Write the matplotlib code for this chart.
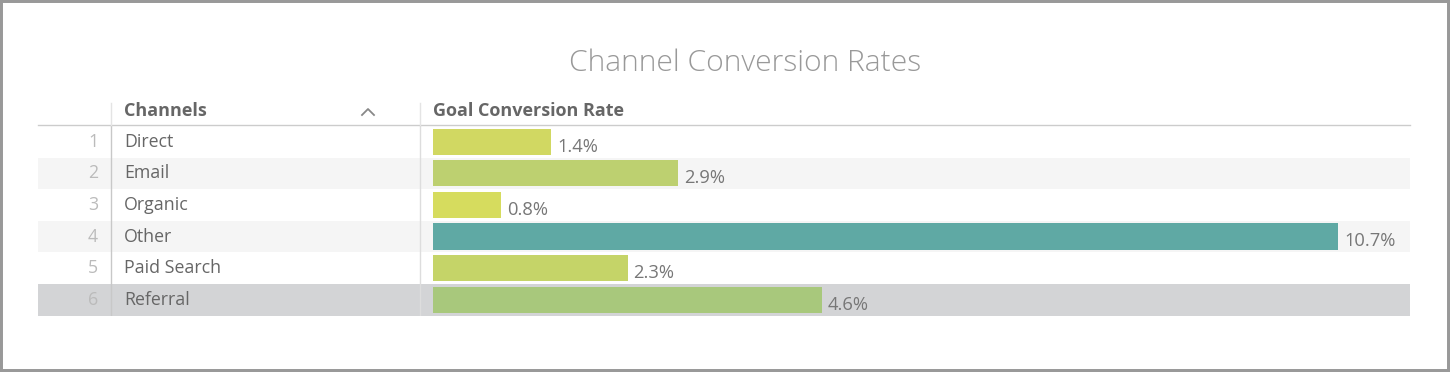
import matplotlib.pyplot as plt
from matplotlib.lines import Line2D
from matplotlib.patches import Rectangle

plt.rcParams['font.family'] = ['Open Sans', 'DejaVu Sans']

W, H = 1450, 372

title = "Channel Conversion Rates"
channels = ["Direct", "Email", "Organic", "Other", "Paid Search", "Referral"]
rates = [1.4, 2.9, 0.8, 10.7, 2.3, 4.6]
bar_colors = ["#d1d862", "#bdd070", "#d6dc5e", "#5fa9a4", "#c5d468", "#a8c87c"]
row_bg = ["#ffffff", "#f5f5f5", "#ffffff", "#f5f5f5", "#ffffff", "#d3d4d6"]
col_headers = ["Channels", "Goal Conversion Rate"]


def fx(x):
    return x / W


def fy(y):
    return 1 - y / H


def add_axes_px(x0, y0, x1, y1):
    return fig.add_axes([fx(x0), fy(y1), (x1 - x0) / W, (y1 - y0) / H])


fig = plt.figure(figsize=(W / 100, H / 100), dpi=100)
fig.patch.set_facecolor("white")

# table body: x in pixels, y in rows
tab = add_axes_px(38, 126, 1410, 315.5)
tab.set_xlim(38, 1410)
tab.set_ylim(len(channels) - 0.5, -0.5)
tab.axis("off")
for i, name in enumerate(channels):
    tab.axhspan(i - 0.5, i + 0.5, color=row_bg[i], lw=0, zorder=0)
    tab.text(98, i, str(i + 1), ha="right", va="center", fontsize=12.8, color="#bbbbbb")
    tab.text(124, i, name, ha="left", va="center", fontsize=12.8, color="#666666")
tab.axvline(111, color="#c8c8c8", lw=1)
tab.axvline(420, color="#dddddd", lw=1)

# bars: x in percent
bx = add_axes_px(433, 126, 1410, 315.5)
bx.patch.set_alpha(0)
xmax = 10.7 * (1410 - 433) / (1338 - 433)
bx.set_xlim(0, xmax)
bx.set_ylim(len(channels) - 0.5, -0.5)
bx.axis("off")
bx.barh(range(len(channels)), rates, height=0.83, color=bar_colors, lw=0)
for i, v in enumerate(rates):
    bx.annotate(f"{v}%", (v, i), xytext=(4.3, -3.5), textcoords="offset points",
                ha="left", va="center", fontsize=13.2, color="#777777")

# header
fig.text(fx(745), fy(63), title, ha="center", va="center", fontsize=21.6,
         color="#999999", fontweight="light")
fig.text(fx(124), fy(111), col_headers[0], ha="left", va="center", fontsize=13,
         color="#666666", fontweight="bold")
fig.text(fx(433), fy(111), col_headers[1], ha="left", va="center", fontsize=13,
         color="#666666", fontweight="bold")
fig.add_artist(Line2D([fx(362), fx(368), fx(374)], [fy(115), fy(109), fy(115)],
                      color="#888888", lw=1.3))
fig.add_artist(Line2D([fx(38), fx(1410)], [fy(125), fy(125)], color="#cccccc", lw=1))
for xv in (111, 420):
    fig.add_artist(Line2D([fx(xv), fx(xv)], [fy(103), fy(125)], color="#e4e4e4", lw=1))

# outer frame
fig.add_artist(Rectangle((0, 0), 1, 1, transform=fig.transFigure, fill=False,
                         ec="#999999", lw=4.3))

fig.savefig("out.png", dpi=100)
